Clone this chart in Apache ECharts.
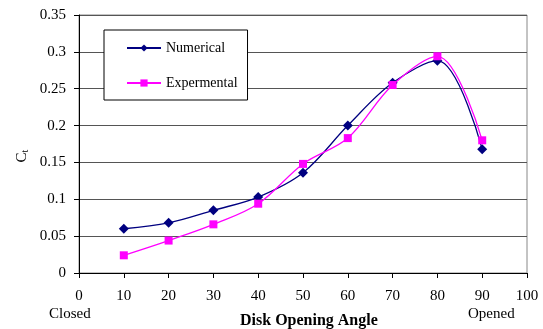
<!DOCTYPE html>
<html><head><meta charset="utf-8">
<script src="https://cdn.jsdelivr.net/npm/echarts@6/dist/echarts.min.js"></script>
<style>html,body{margin:0;padding:0;background:#fff}#c{width:543px;height:329px}</style>
</head><body><div id="c"></div>
<script>
const angles = [10, 20, 30, 40, 50, 60, 70, 80, 90];
const numerical = [0.060, 0.068, 0.085, 0.103, 0.136, 0.200, 0.258, 0.288, 0.168];
const experimental = [0.024, 0.044, 0.066, 0.094, 0.148, 0.183, 0.255, 0.294, 0.180];
const seriesNames = ['Numerical', 'Expermental'];
const xTitle = 'Disk Opening Angle';
const yTitleMain = 'C';
const yTitleSub = 't';

const font = 'Liberation Serif';
const chart = echarts.init(document.getElementById('c'));
chart.setOption({
  animation: false,
  grid: { left: 79, right: 16, top: 15, bottom: 56, show: true, borderColor: '#888', borderWidth: 1 },
  legend: {
    left: 104, top: 30, width: 152, height: 69, orient: 'vertical',
    padding: [11, 10, 10, 22], itemGap: 21,
    backgroundColor: '#fff', borderColor: '#000', borderWidth: 1,
    itemWidth: 34, itemHeight: 9,
    textStyle: { fontFamily: font, fontSize: 14, color: '#000' },
    data: seriesNames
  },
  xAxis: {
    type: 'value', min: 0, max: 100, interval: 10,
    axisLine: { onZero: false, lineStyle: { color: '#000' } },
    axisTick: { show: true, length: 5, lineStyle: { color: '#000' } },
    axisLabel: { fontFamily: font, fontSize: 15, color: '#000', margin: 16 },
    splitLine: { show: false }
  },
  yAxis: {
    type: 'value', min: 0, max: 0.35, interval: 0.05,
    axisLine: { show: true, lineStyle: { color: '#000' } },
    axisTick: { show: true, length: 5, lineStyle: { color: '#000' } },
    axisLabel: { fontFamily: font, fontSize: 15, color: '#000', margin: 13 },
    splitLine: { show: true, lineStyle: { color: '#555', width: 1 } }
  },
  graphic: [
    { type: 'text', x: 22, y: 156, rotation: Math.PI / 2,
      style: { text: '{m|' + yTitleMain + '}{s|' + yTitleSub + '}', align: 'center', verticalAlign: 'middle',
        rich: { m: { fontFamily: font, fontSize: 15, fill: '#000' }, s: { fontFamily: font, fontSize: 10, fill: '#000', padding: [6, 0, 0, 0] } } } },
    { type: 'text', left: 49, top: 307, style: { text: 'Closed', font: '15px "Liberation Serif"', fill: '#000' } },
    { type: 'text', left: 468, top: 307, style: { text: 'Opened', font: '15px "Liberation Serif"', fill: '#000' } },
    { type: 'text', left: 240, top: 313, style: { text: xTitle, font: 'bold 16px "Liberation Serif"', fill: '#000' } }
  ],
  series: [
    {
      name: seriesNames[0], type: 'line', smooth: 0.35,
      data: angles.map((a, i) => [a, numerical[i]]),
      symbol: 'diamond', symbolSize: 10,
      itemStyle: { color: '#000080' },
      lineStyle: { color: '#000080', width: 1.3 }
    },
    {
      name: seriesNames[1], type: 'line', smooth: 0.35,
      data: angles.map((a, i) => [a, experimental[i]]),
      symbol: 'rect', symbolSize: 8,
      itemStyle: { color: '#ff00ff' },
      lineStyle: { color: '#ff00ff', width: 1.3 }
    }
  ]
});
</script></body></html>
